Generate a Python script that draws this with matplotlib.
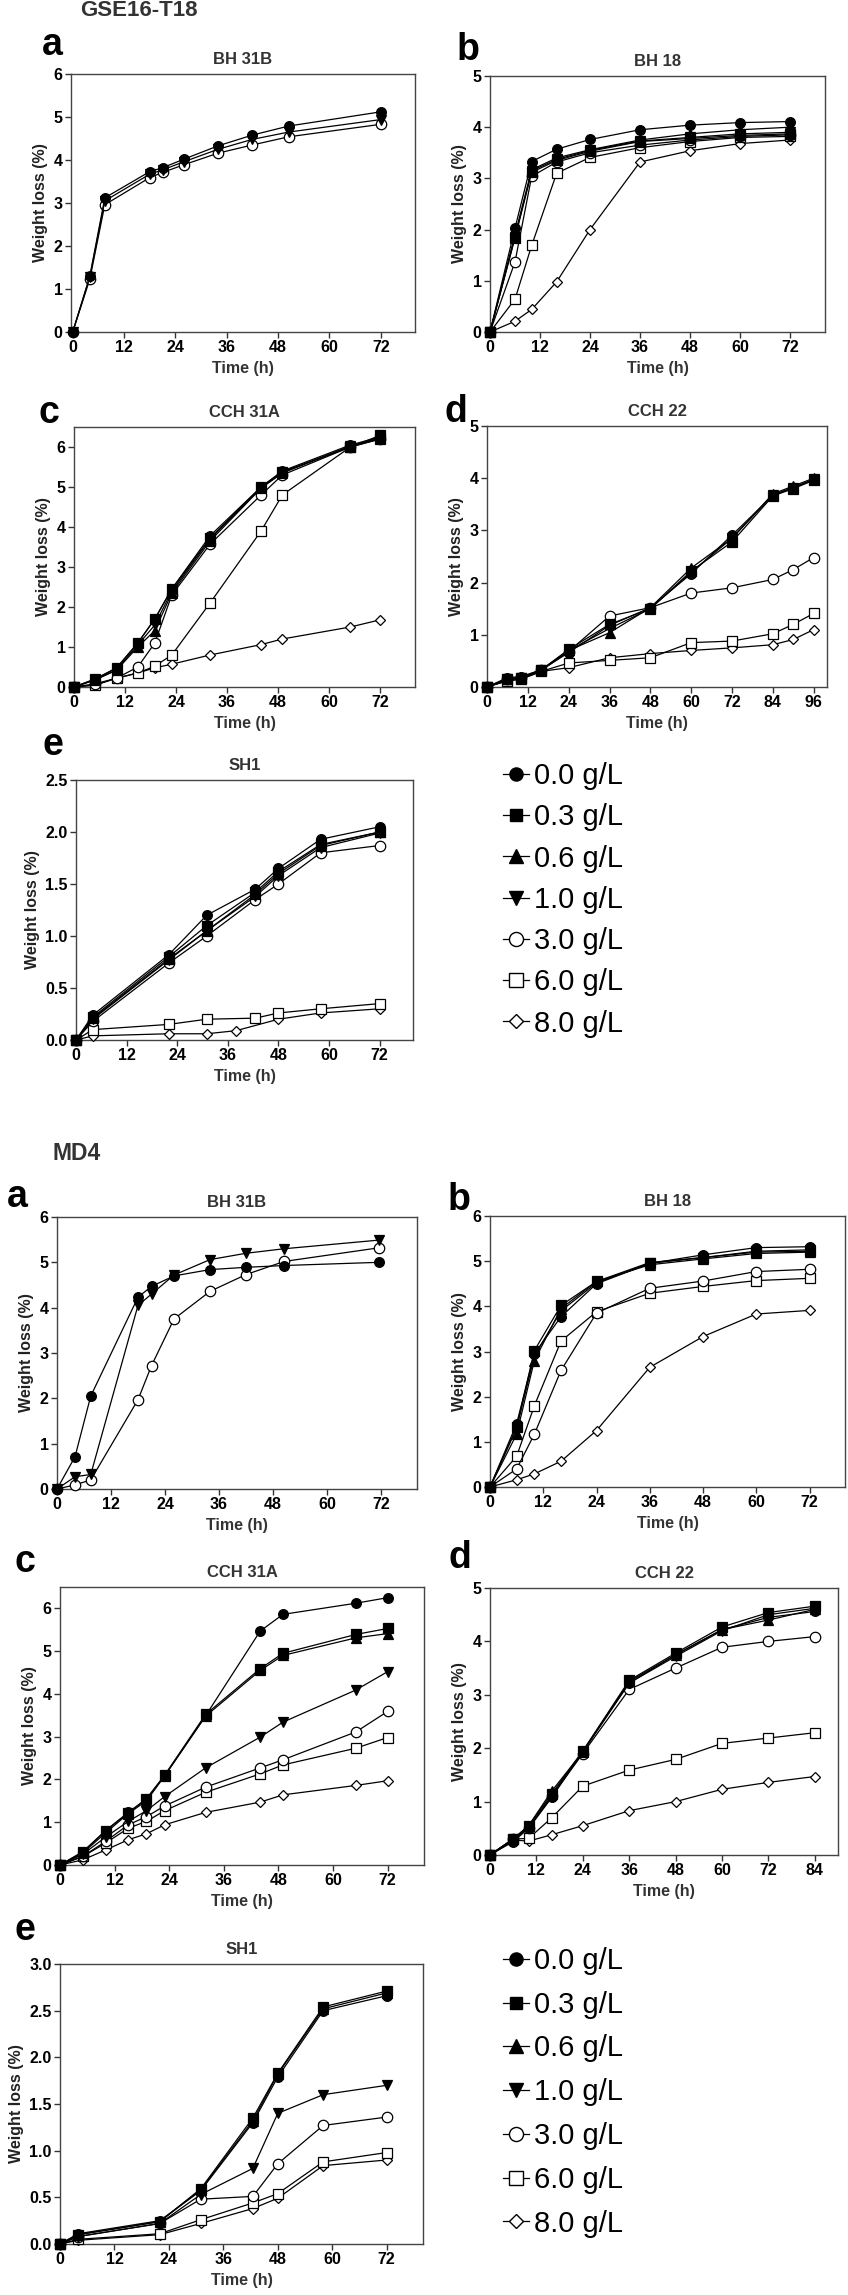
import matplotlib
matplotlib.use("Agg")
import matplotlib.pyplot as plt
from matplotlib.lines import Line2D

# ---------------- data ----------------
CONC = ["0.0 g/L", "0.3 g/L", "0.6 g/L", "1.0 g/L", "3.0 g/L", "6.0 g/L", "8.0 g/L"]

# GSE16-T18 a: BH 31B
GA_T = [0, 4, 7.5, 18, 21, 26, 34, 42, 50.5, 72]
GA_00 = [0, 1.30, 3.12, 3.73, 3.82, 4.02, 4.33, 4.58, 4.79, 5.12]
GA_10 = [0, 1.28, 3.05, 3.67, 3.77, 3.96, 4.25, 4.48, 4.65, 4.94]
GA_30 = [0, 1.23, 2.96, 3.59, 3.71, 3.89, 4.16, 4.35, 4.54, 4.83]

# GSE16-T18 b: BH 18
GB_T = [0, 6, 10, 16, 24, 36, 48, 60, 72]
GB_00 = [0, 2.03, 3.33, 3.57, 3.76, 3.95, 4.04, 4.09, 4.11]
GB_03 = [0, 1.84, 3.12, 3.35, 3.53, 3.72, 3.78, 3.84, 3.87]
GB_06 = [0, 1.90, 3.17, 3.40, 3.56, 3.75, 3.87, 3.95, 4.00]
GB_10 = [0, 1.85, 3.15, 3.37, 3.55, 3.73, 3.80, 3.87, 3.90]
GB_30 = [0, 1.37, 3.04, 3.32, 3.50, 3.65, 3.75, 3.82, 3.85]
GB_60 = [0, 0.64, 1.69, 3.10, 3.41, 3.60, 3.72, 3.80, 3.82]
GB_80 = [0, 0.21, 0.44, 0.98, 2.00, 3.32, 3.54, 3.68, 3.75]

# GSE16-T18 c: CCH 31A
GC_T = [0, 5, 10, 15, 19, 23, 32, 44, 49, 65, 72]
GC_00 = [0, 0.20, 0.48, 1.10, 1.70, 2.45, 3.78, 5.00, 5.40, 6.05, 6.25]
GC_03 = [0, 0.20, 0.47, 1.10, 1.70, 2.45, 3.72, 5.00, 5.38, 6.00, 6.29]
GC_06 = [0, 0.18, 0.42, 1.00, 1.41, 2.35, 3.65, 4.97, 5.35, 6.02, 6.22]
GC_10 = [0, 0.18, 0.43, 1.05, 1.55, 2.40, 3.70, 4.98, 5.36, 6.02, 6.24]
GC_30 = [0, 0.08, 0.22, 0.50, 1.10, 2.30, 3.57, 4.80, 5.30, 6.00, 6.20]
GC_60 = [0, 0.05, 0.22, 0.35, 0.52, 0.80, 2.10, 3.90, 4.80, 6.00, 6.20]
GC_80 = [0, 0.05, 0.22, 0.35, 0.48, 0.57, 0.80, 1.06, 1.20, 1.50, 1.68]

# GSE16-T18 d: CCH 22
GD_T = [0, 6, 10, 16, 24, 36, 48, 60, 72, 84, 90, 96]
GD_00 = [0, 0.18, 0.20, 0.33, 0.66, 1.18, 1.52, 2.17, 2.91, 3.67, 3.82, 3.97]
GD_03 = [0, 0.15, 0.18, 0.33, 0.72, 1.20, 1.50, 2.22, 2.78, 3.66, 3.80, 3.96]
GD_06 = [0, 0.15, 0.17, 0.33, 0.70, 1.04, 1.52, 2.28, 2.85, 3.70, 3.85, 4.00]
GD_10 = [0, 0.16, 0.18, 0.33, 0.70, 1.12, 1.50, 2.20, 2.85, 3.68, 3.82, 3.98]
GD_30 = [0, 0.15, 0.18, 0.32, 0.68, 1.36, 1.52, 1.80, 1.90, 2.06, 2.25, 2.48]
GD_60 = [0, 0.12, 0.15, 0.30, 0.46, 0.51, 0.56, 0.85, 0.88, 1.02, 1.20, 1.41]
GD_80 = [0, 0.12, 0.15, 0.30, 0.37, 0.56, 0.64, 0.70, 0.75, 0.81, 0.91, 1.10]

# GSE16-T18 e: SH1
GE_T = [0, 4, 22, 31, 42.5, 48, 58, 72]
GE_T80 = [0, 4, 22, 31, 38, 48, 58, 72]
GE_00 = [0, 0.24, 0.82, 1.20, 1.45, 1.65, 1.93, 2.05]
GE_03 = [0, 0.22, 0.80, 1.10, 1.42, 1.62, 1.88, 2.00]
GE_06 = [0, 0.21, 0.78, 1.05, 1.40, 1.60, 1.87, 2.00]
GE_10 = [0, 0.20, 0.77, 1.05, 1.38, 1.58, 1.85, 1.99]
GE_30 = [0, 0.18, 0.74, 1.00, 1.35, 1.50, 1.80, 1.87]
GE_60 = [0, 0.10, 0.15, 0.20, 0.21, 0.26, 0.30, 0.35]
GE_80 = [0, 0.04, 0.06, 0.06, 0.09, 0.20, 0.26, 0.30]

# MD4 a: BH 31B
MA_T = [0, 4, 7.5, 18, 21, 26, 34, 42, 50.5, 71.5]
MA_00 = [0, 0.71, 2.05, 4.23, 4.47, 4.70, 4.84, 4.89, 4.93, 5.00]
MA_10 = [0, 0.27, 0.32, 4.05, 4.30, 4.72, 5.06, 5.20, 5.30, 5.49]
MA_30 = [0, 0.09, 0.20, 1.97, 2.72, 3.75, 4.36, 4.73, 5.02, 5.32]

# MD4 b: BH 18
MB_T = [0, 6, 10, 16, 24, 36, 48, 60, 72]
MB_00 = [0, 1.40, 2.95, 3.77, 4.50, 4.95, 5.14, 5.30, 5.32]
MB_03 = [0, 1.33, 3.02, 4.02, 4.55, 4.97, 5.08, 5.20, 5.22]
MB_06 = [0, 1.17, 2.80, 3.95, 4.55, 4.92, 5.05, 5.17, 5.20]
MB_10 = [0, 1.30, 2.90, 3.90, 4.52, 4.95, 5.08, 5.22, 5.25]
MB_30 = [0, 0.40, 1.17, 2.58, 3.85, 4.40, 4.56, 4.77, 4.82]
MB_60 = [0, 0.68, 1.80, 3.23, 3.88, 4.29, 4.44, 4.57, 4.62]
MB_80 = [0, 0.16, 0.29, 0.57, 1.25, 2.65, 3.33, 3.83, 3.91]

# MD4 c: CCH 31A
MC_T = [0, 5, 10, 15, 19, 23, 32, 44, 49, 65, 72]
MC_00 = [0, 0.31, 0.80, 1.23, 1.54, 2.09, 3.49, 5.47, 5.86, 6.12, 6.25]
MC_03 = [0, 0.30, 0.80, 1.22, 1.55, 2.10, 3.52, 4.59, 4.95, 5.39, 5.53]
MC_06 = [0, 0.28, 0.75, 1.20, 1.50, 2.08, 3.48, 4.55, 4.90, 5.31, 5.41]
MC_10 = [0, 0.25, 0.65, 1.02, 1.27, 1.60, 2.27, 2.99, 3.34, 4.09, 4.52]
MC_30 = [0, 0.20, 0.55, 0.94, 1.13, 1.38, 1.82, 2.27, 2.46, 3.11, 3.59]
MC_60 = [0, 0.20, 0.51, 0.86, 1.02, 1.27, 1.70, 2.13, 2.34, 2.73, 2.98]
MC_80 = [0, 0.12, 0.35, 0.59, 0.73, 0.94, 1.23, 1.47, 1.64, 1.86, 1.97]

# MD4 d: CCH 22
MD_T = [0, 6, 10, 16, 24, 36, 48, 60, 72, 84]
MD_00 = [0, 0.25, 0.50, 1.08, 1.94, 3.22, 3.75, 4.22, 4.45, 4.56]
MD_03 = [0, 0.30, 0.55, 1.15, 1.95, 3.27, 3.78, 4.27, 4.54, 4.66]
MD_06 = [0, 0.30, 0.55, 1.20, 1.93, 3.25, 3.75, 4.22, 4.40, 4.60]
MD_10 = [0, 0.28, 0.52, 1.12, 1.93, 3.22, 3.72, 4.20, 4.50, 4.62]
MD_30 = [0, 0.30, 0.50, 1.10, 1.90, 3.10, 3.50, 3.89, 4.00, 4.09]
MD_60 = [0, 0.30, 0.31, 0.70, 1.29, 1.59, 1.79, 2.09, 2.19, 2.29]
MD_80 = [0, 0.28, 0.26, 0.38, 0.55, 0.83, 1.00, 1.23, 1.36, 1.47]

# MD4 e: SH1
ME_T = [0, 4, 22, 31, 42.5, 48, 58, 72]
ME_00 = [0, 0.11, 0.25, 0.57, 1.30, 1.79, 2.50, 2.66]
ME_03 = [0, 0.10, 0.24, 0.59, 1.35, 1.83, 2.54, 2.71]
ME_06 = [0, 0.10, 0.24, 0.58, 1.32, 1.82, 2.52, 2.69]
ME_10 = [0, 0.08, 0.22, 0.53, 0.81, 1.40, 1.60, 1.70]
ME_30 = [0, 0.08, 0.22, 0.48, 0.51, 0.86, 1.27, 1.36]
ME_60 = [0, 0.05, 0.11, 0.26, 0.44, 0.54, 0.88, 0.98]
ME_80 = [0, 0.04, 0.10, 0.22, 0.38, 0.49, 0.84, 0.90]

X_TICKS_72 = [0, 12, 24, 36, 48, 60, 72]
X_TICKS_96 = [0, 12, 24, 36, 48, 60, 72, 84, 96]
X_TICKS_84 = [0, 12, 24, 36, 48, 60, 72, 84]

# ---------------- styles ----------------
STYLE = {
    "0.0 g/L": dict(marker='o', mfc='black', ms=7),
    "0.3 g/L": dict(marker='s', mfc='black', ms=6.5),
    "0.6 g/L": dict(marker='^', mfc='black', ms=7),
    "1.0 g/L": dict(marker='v', mfc='black', ms=7),
    "3.0 g/L": dict(marker='o', mfc='white', ms=7.5),
    "6.0 g/L": dict(marker='s', mfc='white', ms=7),
    "8.0 g/L": dict(marker='D', mfc='white', ms=5.2),
}

FAM = ['Liberation Sans', 'DejaVu Sans']
plt.rcParams['font.family'] = FAM
plt.rcParams['font.weight'] = 'bold'

W, H = 848, 2295
fig = plt.figure(figsize=(W / 100, H / 100), dpi=100)

FS = 11.5


def box(l, r, t, b):
    return [l / W, 1 - b / H, (r - l) / W, (b - t) / H]


def series(times, values, alt_times=None):
    out = []
    for c, v in zip(CONC, values):
        if v is None:
            continue
        t = times
        if alt_times is not None and c in alt_times:
            t = alt_times[c]
        out.append((c, t, v))
    return out


panels = [
    ("BH 31B", box(71, 415, 74, 332),
     series(GA_T, [GA_00, None, None, GA_10, GA_30, None, None]),
     (-0.4, 80), X_TICKS_72, (0, 6), range(0, 7), "{:d}"),
    ("BH 18", box(490, 825, 76, 332),
     series(GB_T, [GB_00, GB_03, GB_06, GB_10, GB_30, GB_60, GB_80]),
     (0, 80.4), X_TICKS_72, (0, 5), range(0, 6), "{:d}"),
    ("CCH 31A", box(74, 415, 427, 687),
     series(GC_T, [GC_00, GC_03, GC_06, GC_10, GC_30, GC_60, GC_80]),
     (0, 80.2), X_TICKS_72, (0, 6.5), range(0, 7), "{:d}"),
    ("CCH 22", box(487, 827, 426, 687),
     series(GD_T, [GD_00, GD_03, GD_06, GD_10, GD_30, GD_60, GD_80]),
     (0, 99.9), X_TICKS_96, (0, 5), range(0, 6), "{:d}"),
    ("SH1", box(76, 413, 780, 1040),
     series(GE_T, [GE_00, GE_03, GE_06, GE_10, GE_30, GE_60, GE_80],
            alt_times={"8.0 g/L": GE_T80}),
     (0, 79.9), X_TICKS_72, (0, 2.5), [0, 0.5, 1.0, 1.5, 2.0, 2.5], "{:.1f}"),
    ("BH 31B", box(57, 417, 1217, 1489),
     series(MA_T, [MA_00, None, None, MA_10, MA_30, None, None]),
     (0, 80), X_TICKS_72, (0, 6), range(0, 7), "{:d}"),
    ("BH 18", box(490, 845, 1216, 1487),
     series(MB_T, [MB_00, MB_03, MB_06, MB_10, MB_30, MB_60, MB_80]),
     (0, 80), X_TICKS_72, (0, 6), range(0, 7), "{:d}"),
    ("CCH 31A", box(60, 424, 1587, 1865),
     series(MC_T, [MC_00, MC_03, MC_06, MC_10, MC_30, MC_60, MC_80]),
     (0, 80), X_TICKS_72, (0, 6.5), range(0, 7), "{:d}"),
    ("CCH 22", box(490, 838, 1588, 1855),
     series(MD_T, [MD_00, MD_03, MD_06, MD_10, MD_30, MD_60, MD_80]),
     (0, 90), X_TICKS_84, (0, 5), range(0, 6), "{:d}"),
    ("SH1", box(60, 423, 1964, 2244),
     series(ME_T, [ME_00, ME_03, ME_06, ME_10, ME_30, ME_60, ME_80]),
     (0, 80), X_TICKS_72, (0, 3.0), [0, 0.5, 1.0, 1.5, 2.0, 2.5, 3.0], "{:.1f}"),
]

for title, rect, ser, xlim, xticks, ylim, yticks, fmt in panels:
    ax = fig.add_axes(rect)
    for c, t, v in reversed(ser):
        st = STYLE[c]
        ax.plot(t, v, color='black', lw=0.9, marker=st['marker'], ms=st['ms'],
                mfc=st['mfc'], mec='black', mew=0.9, clip_on=False, zorder=3)
    ax.set_xlim(*xlim)
    ax.set_ylim(*ylim)
    ax.set_xticks(xticks)
    ax.set_yticks(list(yticks))
    ax.set_yticklabels([fmt.format(y) for y in yticks])
    ax.tick_params(direction='out', length=4, width=1, labelsize=FS, pad=2,
                   color='#333333')
    for s in ax.spines.values():
        s.set_color('#444444')
        s.set_linewidth(1.0)
    ax.set_title(title, fontsize=12, fontweight='bold', color='#333333', pad=7)
    ax.set_xlabel("Time (h)", fontsize=FS, fontweight='bold', color='#333333', labelpad=4)
    ax.set_ylabel("Weight loss (%)", fontsize=FS, fontweight='bold', color='#222222', labelpad=4)

# panel letters (x left, baseline y, in pixels)
letters = [("a", 42, 55), ("b", 457, 60), ("c", 39, 423), ("d", 445, 422), ("e", 42, 755),
           ("a", 7, 1207), ("b", 448, 1210), ("c", 15, 1572), ("d", 448, 1568), ("e", 15, 1940)]
for txt, x, y in letters:
    fig.text(x / W, 1 - y / H, txt, fontsize=27, fontweight='bold', ha='left',
             va='baseline', color='black')

# section titles
fig.text(80 / W, 1 - 11 / H, "GSE16-T18", fontsize=16, fontweight='bold',
         color='#333333', ha='left', va='center')
fig.text(53 / W, 1 - 1153 / H, "MD4", fontsize=16.5, fontweight='bold',
         color='#333333', ha='left', va='center')

# legends
handles = [Line2D([], [], color='black', lw=0.9, marker=STYLE[c]['marker'],
                  ms=STYLE[c]['ms'] * 1.35, mfc=STYLE[c]['mfc'], mec='black', mew=1.0)
           for c in CONC]
for (x0, ytop, spacing) in [(503, 762, 0.455), (503, 1947, 0.54)]:
    fig.legend(handles, CONC, loc='upper left', bbox_to_anchor=(x0 / W, 1 - ytop / H),
               frameon=False, prop={'family': FAM, 'size': 21, 'weight': 'normal'},
               handlelength=0.9, handletextpad=0.15, labelspacing=spacing,
               borderpad=0, borderaxespad=0)

fig.savefig("out.png", dpi=100)
